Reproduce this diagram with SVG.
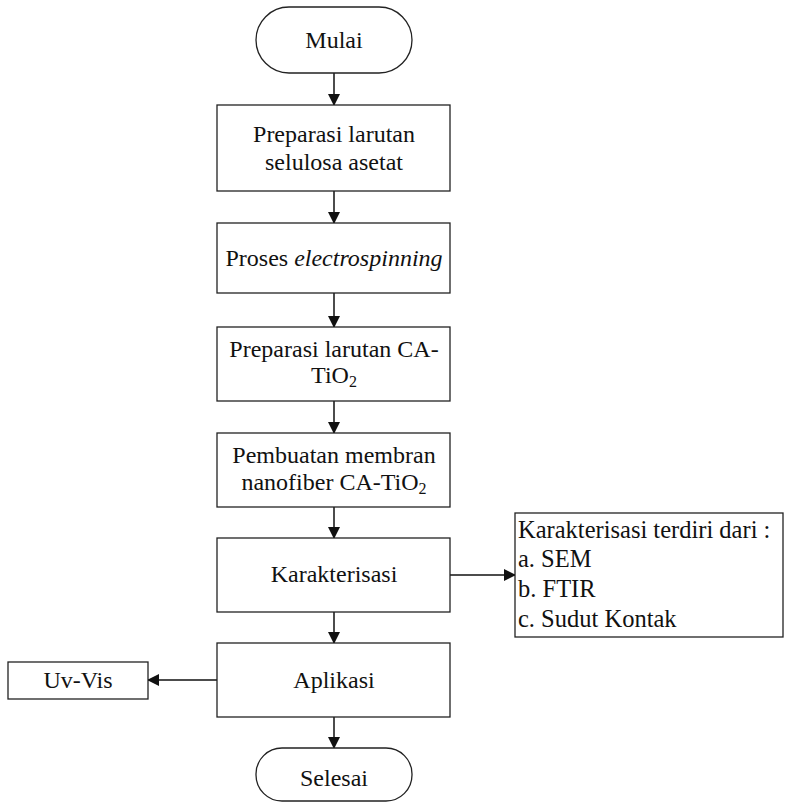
<svg xmlns="http://www.w3.org/2000/svg" width="788" height="802" viewBox="0 0 788 802">
<style>
.n{fill:#fff;stroke:#222;stroke-width:1.3}
.t{font-family:"Liberation Serif","Times New Roman",serif;font-size:24px;fill:#111;text-anchor:middle}
.l{font-family:"Liberation Serif","Times New Roman",serif;font-size:24.5px;fill:#111}
.c{stroke:#111;stroke-width:1.5;fill:none;marker-end:url(#ah)}
</style>
<defs>
<marker id="ah" markerWidth="12" markerHeight="12" refX="11" refY="6" orient="auto" markerUnits="userSpaceOnUse">
<path d="M0,0 L12,6 L0,12 z" fill="#111"/>
</marker>
</defs>
<rect width="788" height="802" fill="#fff"/>
<g id="connectors">
<line class="c" x1="334" y1="73" x2="334" y2="105"/>
<line class="c" x1="334" y1="191" x2="334" y2="223"/>
<line class="c" x1="334" y1="293" x2="334" y2="327"/>
<line class="c" x1="334" y1="401" x2="334" y2="433"/>
<line class="c" x1="334" y1="507" x2="334" y2="538"/>
<line class="c" x1="334" y1="612" x2="334" y2="643"/>
<line class="c" x1="334" y1="717" x2="334" y2="748"/>
<line class="c" x1="450" y1="575" x2="515" y2="575"/>
<line class="c" x1="217" y1="680" x2="148" y2="680"/>
</g>
<g id="mulai"><rect class="n" x="256" y="7" width="156" height="66" rx="33"/><text class="t" x="334" y="48">Mulai</text></g>
<g id="prep1"><rect class="n" x="217" y="105" width="233" height="86"/><text class="t" x="334" y="142">Preparasi larutan</text><text class="t" x="334" y="170">selulosa asetat</text></g>
<g id="electro"><rect class="n" x="217" y="223" width="233" height="70"/><text class="t" x="334" y="266">Proses <tspan font-style="italic">electrospinning</tspan></text></g>
<g id="prep2"><rect class="n" x="217" y="327" width="233" height="74"/><text class="t" x="334" y="357">Preparasi larutan CA-</text><text class="t" x="334" y="383">TiO<tspan font-size="16" dy="4">2</tspan></text></g>
<g id="membran"><rect class="n" x="217" y="433" width="233" height="74"/><text class="t" x="334" y="463">Pembuatan membran</text><text class="t" x="334" y="490">nanofiber CA-TiO<tspan font-size="16" dy="4">2</tspan></text></g>
<g id="karakterisasi"><rect class="n" x="217" y="538" width="233" height="74"/><text class="t" x="334" y="582">Karakterisasi</text></g>
<g id="list"><rect class="n" x="515" y="513" width="268" height="124"/>
<text class="l" x="518" y="538">Karakterisasi terdiri dari :</text>
<text class="l" x="518" y="567">a. SEM</text>
<text class="l" x="518" y="597">b. FTIR</text>
<text class="l" x="518" y="627">c. Sudut Kontak</text></g>
<g id="aplikasi"><rect class="n" x="217" y="643" width="233" height="74"/><text class="t" x="334" y="688">Aplikasi</text></g>
<g id="uvvis"><rect class="n" x="8" y="662" width="140" height="37"/><text class="t" x="78" y="688">Uv-Vis</text></g>
<g id="selesai"><rect class="n" x="256" y="748" width="156" height="53" rx="26"/><text class="t" x="334" y="786">Selesai</text></g>
</svg>
